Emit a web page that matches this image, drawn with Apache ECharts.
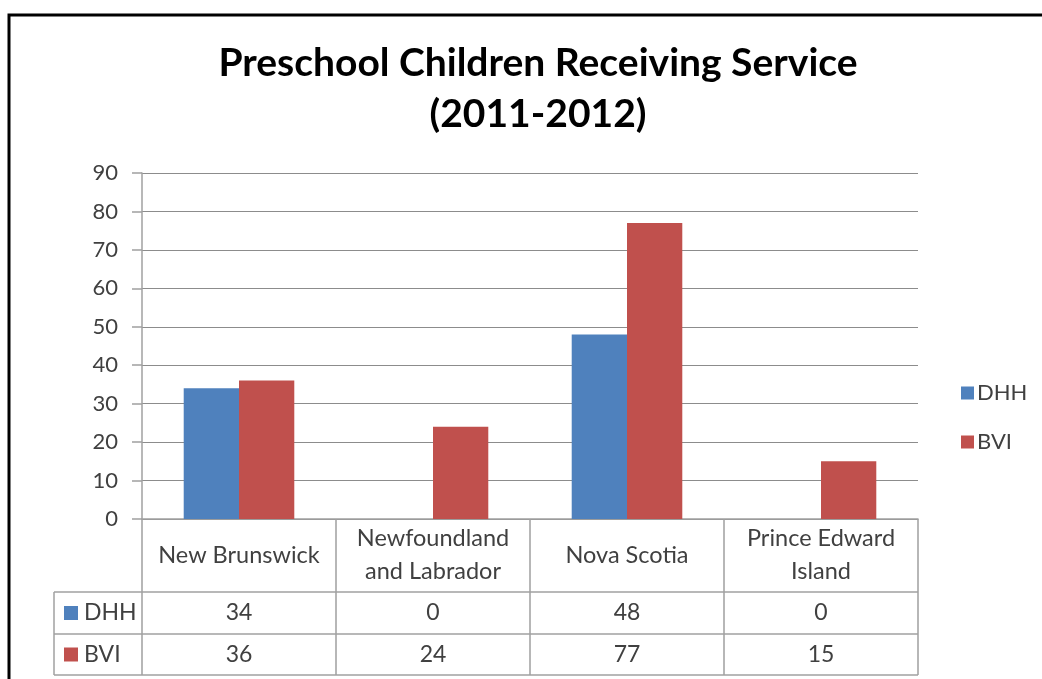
<!DOCTYPE html>
<html>
<head>
<meta charset="utf-8">
<script src="https://cdn.jsdelivr.net/npm/echarts@6/dist/echarts.min.js"></script>
<style>html,body{margin:0;padding:0;background:#fff;}#c{width:1042px;height:679px;}</style>
</head>
<body>
<div id="c"></div>
<script>
const categories = ['New Brunswick', 'Newfoundland and Labrador', 'Nova Scotia', 'Prince Edward Island'];
const seriesNames = ['DHH', 'BVI'];
const dhh = [34, 0, 48, 0];
const bvi = [36, 24, 77, 15];
const yMin = 0, yMax = 90, yStep = 10;
const titleText = 'Preschool Children Receiving Service\n(2011-2012)';

const colors = ['#4F81BD', '#C0504D'];
const FONT = 'Lato';
const TXT = '#404040';
const LINE = '#a0a0a0';
// layout
const GL = 142, GT = 173, GR = 918, GB = 519;
const W = 1042, H = 679;
const rowCat = 592, row1 = 634, row2 = 675, tableLeft = 54;

function wrapCat(v) {
  return v.replace(' and ', '\nand ').replace('Edward ', 'Edward\n');
}

const chart = echarts.init(document.getElementById('c'), null, {renderer: 'canvas'});
const seriesVals = [dhh, bvi];

const graphics = [
  {type: 'rect', shape: {x: 9, y: 15, width: 1200, height: 900}, style: {fill: 'none', stroke: '#000', lineWidth: 3}, silent: true},
  {type: 'line', shape: {x1: tableLeft, y1: rowCat, x2: GR, y2: rowCat}, style: {stroke: LINE, lineWidth: 1.5}},
  {type: 'line', shape: {x1: tableLeft, y1: row1, x2: GR, y2: row1}, style: {stroke: LINE, lineWidth: 1.5}},
  {type: 'line', shape: {x1: tableLeft, y1: row2, x2: GR, y2: row2}, style: {stroke: LINE, lineWidth: 1.5}},
  {type: 'line', shape: {x1: tableLeft, y1: rowCat, x2: tableLeft, y2: row2}, style: {stroke: LINE, lineWidth: 1.5}}
];
const rowCenters = [(rowCat + row1) / 2, (row1 + row2) / 2];
seriesNames.forEach((n, i) => {
  graphics.push({type: 'rect', shape: {x: 64, y: rowCenters[i] - 7, width: 14, height: 14}, style: {fill: colors[i]}});
  graphics.push({type: 'text', x: 84, y: rowCenters[i], style: {text: n, font: '23px ' + FONT, fill: TXT, textVerticalAlign: 'middle'}});
});

const valueAxis = (arr, off) => ({
  type: 'category', data: categories, position: 'bottom', offset: off, gridIndex: 0,
  axisLine: {show: false}, axisTick: {show: false}, splitLine: {show: false},
  axisLabel: {interval: 0, margin: 0, verticalAlign: 'middle', fontFamily: FONT, fontSize: 23, color: TXT,
    formatter: (v, i) => String(arr[i])}
});

chart.setOption({
  animation: false,
  backgroundColor: '#fff',
  color: colors,
  title: {
    text: titleText, left: 533, top: 33, textAlign: 'center',
    textStyle: {fontFamily: FONT, fontWeight: 'bold', fontSize: 39, color: '#000', lineHeight: 51}
  },
  legend: {
    data: seriesNames, orient: 'vertical', left: 956, top: 377, icon: 'rect',
    itemWidth: 13, itemHeight: 13, itemGap: 27,
    textStyle: {fontFamily: FONT, fontSize: 22, color: TXT, padding: [0, 0, 0, -2]}
  },
  grid: {left: GL, top: GT, right: W - GR, bottom: H - GB, containLabel: false},
  xAxis: [
    {
      type: 'category', data: categories,
      axisLine: {show: true, lineStyle: {color: LINE, width: 1.5}},
      axisTick: {show: true, interval: 0, alignWithLabel: false, length: row2 - GB, lineStyle: {color: LINE, width: 1.5}},
      axisLabel: {interval: 0, margin: 36, verticalAlign: 'middle', fontFamily: FONT, fontSize: 23.5, color: TXT, lineHeight: 33, formatter: wrapCat}
    },
    valueAxis(dhh, (rowCat + row1) / 2 - GB),
    valueAxis(bvi, (row1 + row2) / 2 - GB)
  ],
  yAxis: {
    type: 'value', min: yMin, max: yMax, interval: yStep,
    axisLine: {show: true, lineStyle: {color: LINE, width: 1.5}},
    axisTick: {show: true, length: 10, lineStyle: {color: LINE, width: 1.5}},
    splitLine: {show: true, lineStyle: {color: '#8c8c8c', width: 1}},
    axisLabel: {margin: 24, fontFamily: FONT, fontSize: 22, color: TXT}
  },
  series: seriesNames.map((n, i) => ({
    name: n, type: 'bar', data: seriesVals[i], xAxisIndex: 0,
    barGap: '0%', barCategoryGap: '43%', itemStyle: {color: colors[i]}
  })),
  graphic: graphics
});
</script>
</body>
</html>
